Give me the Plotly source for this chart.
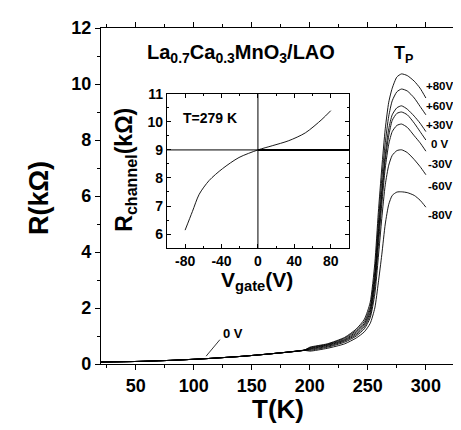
import plotly.graph_objects as go

# ---- data ----
T_low = [20, 50, 80, 110, 140, 160, 180, 195]
R_low = [0.07, 0.09, 0.13, 0.19, 0.27, 0.34, 0.42, 0.49]

T_high = [200, 215, 230, 240, 247, 252, 256, 259, 262, 265, 268, 271, 275, 279, 284, 290, 295, 300]
gate_labels = ["+80V", "+60V", "+30V", "0 V", "-30V", "-60V", "-80V"]
R_p80 = [0.60, 0.72, 0.95, 1.25, 1.60, 2.20, 3.60, 5.40, 7.00, 8.40, 9.35, 9.85, 10.25, 10.36, 10.30, 10.10, 9.85, 9.50]
R_p60 = [0.58, 0.70, 0.92, 1.20, 1.52, 2.05, 3.30, 5.00, 6.60, 7.90, 8.85, 9.40, 9.72, 9.82, 9.75, 9.50, 9.20, 8.90]
R_p30 = [0.56, 0.68, 0.88, 1.15, 1.45, 1.95, 3.10, 4.70, 6.20, 7.50, 8.40, 8.90, 9.15, 9.22, 9.10, 8.85, 8.60, 8.30]
R_0 = [0.54, 0.66, 0.85, 1.10, 1.40, 1.85, 2.95, 4.50, 6.00, 7.30, 8.15, 8.70, 8.95, 9.00, 8.90, 8.60, 8.30, 8.00]
R_m30 = [0.52, 0.63, 0.82, 1.05, 1.33, 1.75, 2.75, 4.20, 5.70, 7.00, 7.85, 8.30, 8.52, 8.57, 8.45, 8.15, 7.90, 7.60]
R_m60 = [0.49, 0.60, 0.78, 1.00, 1.26, 1.65, 2.50, 3.80, 5.20, 6.40, 7.10, 7.45, 7.62, 7.65, 7.55, 7.30, 7.05, 6.76]
R_m80 = [0.46, 0.56, 0.72, 0.93, 1.15, 1.45, 2.00, 2.90, 3.90, 5.00, 5.70, 6.02, 6.14, 6.15, 6.12, 6.02, 5.85, 5.60]
curves = [R_p80, R_p60, R_p30, R_0, R_m30, R_m60, R_m80]

V_gate = [-80, -72, -64.5, -53.6, -39, -20.8, 0, 15.7, 33.9, 52.1, 70.3, 80]
R_channel = [6.14, 6.80, 7.42, 7.91, 8.33, 8.73, 9.00, 9.15, 9.33, 9.61, 10.09, 10.40]

x_ticks = [50, 100, 150, 200, 250, 300]
y_ticks = [0, 2, 4, 6, 8, 10, 12]
inset_x_ticks = [-80, -40, 0, 40, 80]
inset_y_ticks = [6, 7, 8, 9, 10, 11]
ref_V, ref_R = 0, 9

FONT = "Liberation Sans, Arial, sans-serif"
bold = lambda vals: ["<b>%s</b>" % v for v in vals]
fig = go.Figure()

for R in curves:
    fig.add_trace(go.Scatter(
        x=T_low + T_high, y=R_low + R, mode="lines",
        line=dict(color="black", width=0.9, shape="spline", smoothing=0.6),
        showlegend=False, hoverinfo="skip", xaxis="x", yaxis="y"))

fig.add_trace(go.Scatter(
    x=V_gate, y=R_channel, mode="lines",
    line=dict(color="black", width=0.9, shape="spline", smoothing=0.8),
    showlegend=False, hoverinfo="skip", xaxis="x2", yaxis="y2"))

axis_common = dict(showgrid=False, zeroline=False, showline=True, linecolor="black",
                   linewidth=1.2, mirror="allticks", tickcolor="black")

fig.update_layout(
    width=461, height=430,
    margin=dict(l=93, r=0, t=20, b=74),
    paper_bgcolor="white", plot_bgcolor="white",
    font=dict(family=FONT, color="black"),
    xaxis=dict(**axis_common, range=[20, 332], tickvals=x_ticks, ticktext=bold(x_ticks),
               ticks="outside", ticklen=5,
               minor=dict(tickvals=[25, 75, 125, 175, 225, 275, 325], ticks="outside", ticklen=3,
                          tickcolor="black"),
               tickfont=dict(size=18, family=FONT)),
    yaxis=dict(**axis_common, range=[0, 12], tickvals=y_ticks, ticktext=bold(y_ticks),
               ticks="outside", ticklen=5,
               minor=dict(tickvals=[1, 3, 5, 7, 9, 11], ticks="outside", ticklen=3,
                          tickcolor="black"),
               tickfont=dict(size=18, family=FONT)),
    xaxis2=dict(**axis_common, domain=[0.182, 0.685], anchor="y2", range=[-100, 100],
                tickvals=inset_x_ticks, ticktext=bold(inset_x_ticks), ticks="inside", ticklen=4,
                minor=dict(tickvals=[-60, -20, 20, 60], ticks="inside", ticklen=2, tickcolor="black"),
                tickfont=dict(size=14, family=FONT)),
    yaxis2=dict(**axis_common, domain=[0.345, 0.804], anchor="x2", range=[5.5, 11],
                tickvals=inset_y_ticks, ticktext=bold(inset_y_ticks), ticks="inside", ticklen=4,
                minor=dict(tickvals=[6.5, 7.5, 8.5, 9.5, 10.5], ticks="inside", ticklen=2,
                           tickcolor="black"),
                tickfont=dict(size=14, family=FONT)),
)

# inset crosshair
fig.add_shape(type="line", xref="x2", yref="y2", x0=ref_V, x1=ref_V, y0=5.5, y1=11,
              line=dict(color="black", width=1))
fig.add_shape(type="line", xref="x2", yref="y2", x0=-100, x1=ref_V, y0=ref_R, y1=ref_R,
              line=dict(color="black", width=1))
fig.add_shape(type="line", xref="x2", yref="y2", x0=ref_V, x1=100, y0=ref_R, y1=ref_R,
              line=dict(color="black", width=2))

# pointer for "0 V"
fig.add_shape(type="line", xref="x", yref="y", x0=110.6, y0=0.28, x1=122.5, y1=0.87,
              line=dict(color="black", width=0.8))

ann = []
def A(text, x, y, size, xref="x", yref="y", **kw):
    ann.append(dict(text=text, x=x, y=y, xref=xref, yref=yref, showarrow=False,
                    font=dict(size=size, family=FONT, color="black"),
                    xanchor="center", yanchor="middle", **kw))

label_y = [9.93, 9.21, 8.54, 7.86, 7.14, 6.36, 5.32]
for lab, yy in zip(gate_labels, label_y):
    A("<b>%s</b>" % lab, 312.5, yy, 11.5)

A("<b>La<sub>0.7</sub>Ca<sub>0.3</sub>MnO<sub>3</sub>/LAO</b>", 140.3, 11.1, 20)
A("<b>T<sub>P</sub></b>", 281, 11.05, 18)
A("<b>0 V</b>", 133.6, 1.1, 13)
A("<b>T=279 K</b>", -53, 10.15, 14, xref="x2", yref="y2")
A("<b>R(kΩ)</b>", -0.171, 0.494, 27, xref="paper", yref="paper", textangle=-90)
A("<b>T(K)</b>", 0.489, -0.135, 26, xref="paper", yref="paper")
A("<b>R<sub>channel</sub>(kΩ)</b>", 0.068, 0.577, 23, xref="paper", yref="paper", textangle=-90)
A("<b>V<sub>gate</sub>(V)</b>", 0.432, 0.247, 21, xref="paper", yref="paper")
fig.update_layout(annotations=ann)

fig.write_html("out.html")
